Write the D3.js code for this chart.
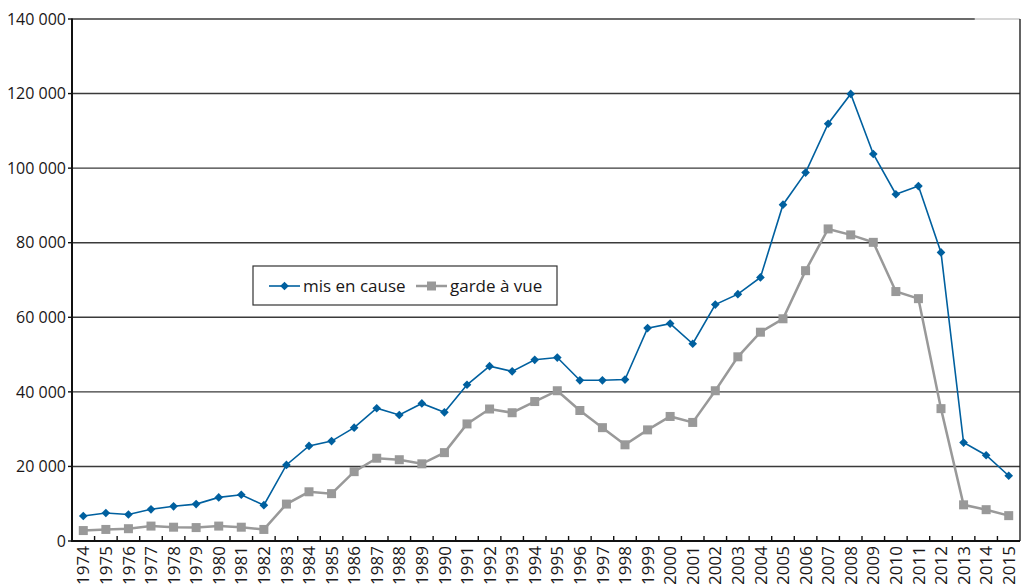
<!DOCTYPE html>
<html lang="fr">
<head>
<meta charset="UTF-8">
<script src="https://d3js.org/d3.v7.min.js"></script>
<style>
  body { margin: 0; background: #fff; }
  svg { display: block; font-family: "Open Sans", sans-serif; }
</style>
</head>
<body>
<svg id="chart" width="1021" height="584"></svg>
<script>
// years on the x axis
const years = d3.range(1974, 2016).map(String);

// mis en cause
const misEnCause = [6700, 7500, 7100, 8500, 9300, 9900, 11700, 12400, 9600, 20400,
    25500, 26800, 30400, 35600, 33800, 36900, 34500, 41900, 46900, 45500,
    48600, 49200, 43100, 43100, 43300, 57100, 58300, 52900, 63400, 66200,
    70700, 90200, 98800, 111900, 119900, 103800, 93000, 95200, 77400, 26400,
    23000, 17500];

// garde à vue
const gardeAVue = [2800, 3100, 3300, 4000, 3700, 3600, 4000, 3700, 3100, 9900,
    13200, 12700, 18600, 22200, 21800, 20700, 23700, 31400, 35400, 34400,
    37400, 40300, 35000, 30400, 25800, 29800, 33400, 31800, 40300, 49400,
    56000, 59600, 72500, 83700, 82100, 80100, 66900, 65000, 35500, 9700,
    8400, 6800];

const yTicks = [0, 20000, 40000, 60000, 80000, 100000, 120000, 140000];
const seriesNames = ["mis en cause", "garde à vue"];

const blue = "#00609f", grey = "#999999";

const svg = d3.select("#chart");
const plotLeft = 72, plotRight = 1020, plotTop = 19, plotBottom = 541;

const x = d3.scaleBand().domain(years).range([plotLeft, plotRight]).padding(0);
const y = d3.scaleLinear().domain([0, 140000]).range([plotBottom, plotTop]);
const fmt = d3.formatLocale({ decimal: ",", thousands: "\u00a0", grouping: [3], currency: ["", "€"] }).format(",d");

// gridlines
svg.append("g").selectAll("line")
    .data(yTicks.filter(d => d > 0 && d < 140000))
    .enter().append("line")
    .attr("x1", plotLeft).attr("x2", plotRight)
    .attr("y1", d => y(d)).attr("y2", d => y(d))
    .attr("stroke", "#3a3a3a").attr("stroke-width", 1.4);

// top line: dark part then lighter part
const split = x("2014");
svg.append("line").attr("x1", plotLeft).attr("x2", split)
    .attr("y1", y(140000)).attr("y2", y(140000))
    .attr("stroke", "#3a3a3a").attr("stroke-width", 1.4);
svg.append("line").attr("x1", split).attr("x2", plotRight)
    .attr("y1", y(140000)).attr("y2", y(140000))
    .attr("stroke", "#c8c8c8").attr("stroke-width", 1.4);

// right border
svg.append("line").attr("x1", plotRight).attr("x2", plotRight)
    .attr("y1", y(140000)).attr("y2", y(0))
    .attr("stroke", "#222").attr("stroke-width", 1.4);

// y axis
const yAxis = svg.append("g");
yAxis.append("line").attr("x1", plotLeft).attr("x2", plotLeft)
    .attr("y1", y(140000) - 0.5).attr("y2", y(0) + 1)
    .attr("stroke", "#111").attr("stroke-width", 2);
yAxis.selectAll(".tick")
    .data(yTicks).enter().append("line")
    .attr("x1", plotLeft - 4).attr("x2", plotLeft)
    .attr("y1", d => y(d)).attr("y2", d => y(d))
    .attr("stroke", "#111").attr("stroke-width", 1.4);
yAxis.selectAll("text")
    .data(yTicks).enter().append("text")
    .attr("x", plotLeft - 6).attr("y", d => y(d)).attr("dy", "0.36em")
    .attr("text-anchor", "end")
    .attr("font-size", 16).attr("fill", "#1a1718")
    .text(d => fmt(d));

// x axis
const xAxis = svg.append("g");
xAxis.append("line").attr("x1", plotLeft - 1).attr("x2", plotRight)
    .attr("y1", y(0)).attr("y2", y(0))
    .attr("stroke", "#111").attr("stroke-width", 2);
xAxis.selectAll(".tick")
    .data(years.slice(1)).enter().append("line")
    .attr("x1", d => x(d)).attr("x2", d => x(d))
    .attr("y1", y(0) - 5).attr("y2", y(0))
    .attr("stroke", "#111").attr("stroke-width", 1.4);
xAxis.selectAll("text")
    .data(years).enter().append("text")
    .attr("transform", d => `translate(${x(d) + x.bandwidth() / 2},${y(0) + 5}) rotate(-90)`)
    .attr("dy", "0.36em")
    .attr("text-anchor", "end")
    .attr("font-size", 17).attr("fill", "#1a1718")
    .text(d => d);

// lines
const cx = (d, i) => x(years[i]) + x.bandwidth() / 2;
const line = d3.line().x(cx).y(d => y(d));

svg.append("path").datum(gardeAVue)
    .attr("d", line).attr("fill", "none")
    .attr("stroke", grey).attr("stroke-width", 2.5);
svg.append("g").selectAll("rect")
    .data(gardeAVue).enter().append("rect")
    .attr("x", (d, i) => cx(d, i) - 4.5).attr("y", d => y(d) - 4.5)
    .attr("width", 9).attr("height", 9).attr("fill", grey);

svg.append("path").datum(misEnCause)
    .attr("d", line).attr("fill", "none")
    .attr("stroke", blue).attr("stroke-width", 1.6);
const diamond = d3.symbol().type(d3.symbolDiamond2).size(48);
svg.append("g").selectAll("path")
    .data(misEnCause).enter().append("path")
    .attr("transform", (d, i) => `translate(${cx(d, i)},${y(d)})`)
    .attr("d", diamond).attr("fill", blue);

// legend
const lg = svg.append("g").attr("transform", "translate(253,266)");
lg.append("rect").attr("width", 304).attr("height", 39)
    .attr("fill", "#fff").attr("stroke", "#333").attr("stroke-width", 1.2);
const items = lg.selectAll("g.item")
    .data(seriesNames).enter().append("g")
    .attr("transform", (d, i) => `translate(${i === 0 ? 16 : 163},20)`);
items.append("line").attr("x1", 0).attr("x2", 31)
    .attr("stroke", (d, i) => i === 0 ? blue : grey)
    .attr("stroke-width", (d, i) => i === 0 ? 1.6 : 2.5);
items.filter((d, i) => i === 0).append("path")
    .attr("transform", "translate(15.5,0)").attr("d", diamond).attr("fill", blue);
items.filter((d, i) => i === 1).append("rect")
    .attr("x", 11).attr("y", -4.5).attr("width", 9).attr("height", 9).attr("fill", grey);
items.append("text").attr("x", 34).attr("dy", "0.33em")
    .attr("font-size", 17).attr("fill", "#1a1718")
    .text(d => d);
</script>
</body>
</html>
